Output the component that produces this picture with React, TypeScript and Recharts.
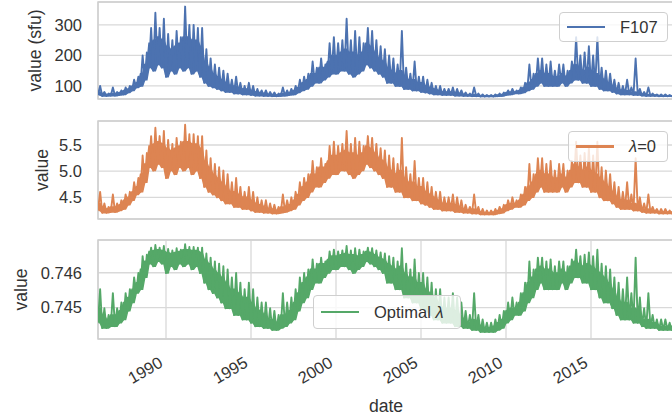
import React from 'react';
import { ComposedChart, Line, Area, XAxis, YAxis, CartesianGrid, ReferenceArea } from 'recharts';

// Daily F10.7 solar flux 1986 - 2019, summarised per quarter:
// the series lists [quarter low, quarter peak] pairs, the *Top lists hold the upper edge of the bulk of the days.
const startYear = 1986;
const samplesPerYear = 8;

const yearTicks = [1990, 1995, 2000, 2005, 2010, 2015];
const fluxTicks = [100, 200, 300];
const logTicks = [4.5, 5.0, 5.5];
const optimalTicks = [0.745, 0.746];

const f107 = [
  70, 100, 67, 80, 67, 75, 68, 95, // 1986
  68, 80, 70, 85, 72, 95, 78, 100,
  85, 120, 95, 130, 100, 200, 120, 210,
  160, 290, 150, 340, 170, 290, 160, 320,
  130, 270, 150, 250, 140, 280, 160, 260, // 1990
  150, 360, 160, 300, 140, 300, 150, 290,
  130, 290, 110, 220, 100, 190, 95, 170,
  90, 160, 85, 150, 80, 140, 80, 120,
  75, 130, 75, 110, 72, 100, 72, 110,
  70, 100, 68, 90, 68, 85, 67, 85, // 1995
  67, 80, 66, 78, 66, 75, 67, 95,
  68, 85, 70, 90, 72, 100, 78, 120,
  85, 130, 90, 140, 100, 180, 110, 160,
  110, 190, 120, 170, 130, 240, 140, 260,
  140, 240, 150, 250, 150, 320, 140, 250, // 2000
  130, 280, 140, 260, 150, 240, 170, 290,
  160, 280, 150, 250, 140, 230, 130, 220,
  110, 200, 110, 190, 100, 170, 100, 280,
  90, 160, 90, 140, 85, 180, 85, 130,
  80, 130, 78, 120, 75, 110, 72, 100, // 2005
  72, 100, 70, 90, 70, 90, 70, 95,
  68, 90, 68, 85, 67, 78, 67, 75,
  66, 95, 66, 75, 65, 72, 65, 70,
  65, 70, 65, 72, 66, 75, 67, 78,
  70, 85, 72, 90, 75, 85, 75, 95, // 2010
  78, 110, 85, 170, 90, 140, 100, 190,
  110, 190, 100, 170, 100, 180, 100, 150,
  100, 170, 110, 170, 100, 150, 110, 180,
  120, 260, 120, 200, 110, 210, 110, 230,
  100, 200, 100, 260, 90, 160, 85, 150, // 2015
  85, 140, 80, 120, 75, 110, 72, 100,
  72, 120, 72, 95, 70, 190, 70, 90,
  68, 80, 67, 95, 67, 75, 67, 72,
  66, 72, 66, 72, 66, 70, 66, 70,
];

const f107Top = [
  80, 75, 72, 75, 75, 78, 85, 90, 100, 110, 140, 170, 240, 250, 260, 250, // 1986-89
  230, 220, 230, 240, 260, 260, 250, 250, 230, 180, 160, 140, 130, 120, 110, 100,
  100, 95, 90, 90, 85, 80, 78, 75, 72, 72, 70, 75, 75, 78, 85, 95, // 1994-97
  110, 120, 140, 140, 160, 160, 180, 200, 200, 210, 220, 210, 210, 200, 210, 240,
  230, 210, 190, 180, 160, 150, 140, 150, 130, 120, 120, 110, 110, 100, 95, 90, // 2002-05
  85, 80, 80, 80, 78, 75, 72, 70, 72, 70, 68, 67, 67, 68, 70, 72,
  78, 80, 80, 85, 95, 110, 120, 140, 150, 140, 140, 130, 130, 140, 130, 150, // 2010-13
  170, 160, 150, 160, 150, 140, 130, 120, 110, 100, 90, 85, 85, 80, 80, 78,
  72, 72, 70, 70, 68, 68, 68, 68, // 2018-19
];

// Box-Cox with lambda = 0 (natural log)
const logF107 = [
  4.248, 4.605, 4.205, 4.382, 4.205, 4.317, 4.220, 4.554,
  4.220, 4.382, 4.248, 4.443, 4.277, 4.554, 4.357, 4.605,
  4.443, 4.787, 4.554, 4.868, 4.605, 5.298, 4.787, 5.347,
  5.075, 5.670, 5.011, 5.829, 5.136, 5.670, 5.075, 5.768,
  4.868, 5.598, 5.011, 5.521, 4.942, 5.635, 5.075, 5.561,
  5.011, 5.886, 5.075, 5.704, 4.942, 5.704, 5.011, 5.670,
  4.868, 5.670, 4.700, 5.394, 4.605, 5.247, 4.554, 5.136,
  4.500, 5.075, 4.443, 5.011, 4.382, 4.942, 4.382, 4.787,
  4.317, 4.868, 4.317, 4.700, 4.277, 4.605, 4.277, 4.700,
  4.248, 4.605, 4.220, 4.500, 4.220, 4.443, 4.205, 4.443,
  4.205, 4.382, 4.190, 4.357, 4.190, 4.317, 4.205, 4.554,
  4.220, 4.443, 4.248, 4.500, 4.277, 4.605, 4.357, 4.787,
  4.443, 4.868, 4.500, 4.942, 4.605, 5.193, 4.700, 5.075,
  4.700, 5.247, 4.787, 5.136, 4.868, 5.481, 4.942, 5.561,
  4.942, 5.481, 5.011, 5.521, 5.011, 5.768, 4.942, 5.521,
  4.868, 5.635, 4.942, 5.561, 5.011, 5.481, 5.136, 5.670,
  5.075, 5.635, 5.011, 5.521, 4.942, 5.438, 4.868, 5.394,
  4.700, 5.298, 4.700, 5.247, 4.605, 5.136, 4.605, 5.635,
  4.500, 5.075, 4.500, 4.942, 4.443, 5.193, 4.443, 4.868,
  4.382, 4.868, 4.357, 4.787, 4.317, 4.700, 4.277, 4.605,
  4.277, 4.605, 4.248, 4.500, 4.248, 4.500, 4.248, 4.554,
  4.220, 4.500, 4.220, 4.443, 4.205, 4.357, 4.205, 4.317,
  4.190, 4.554, 4.190, 4.317, 4.174, 4.277, 4.174, 4.248,
  4.174, 4.248, 4.174, 4.277, 4.190, 4.317, 4.205, 4.357,
  4.248, 4.443, 4.277, 4.500, 4.317, 4.443, 4.317, 4.554,
  4.357, 4.700, 4.443, 5.136, 4.500, 4.942, 4.605, 5.247,
  4.700, 5.247, 4.605, 5.136, 4.605, 5.193, 4.605, 5.011,
  4.605, 5.136, 4.700, 5.136, 4.605, 5.011, 4.700, 5.193,
  4.787, 5.561, 4.787, 5.298, 4.700, 5.347, 4.700, 5.438,
  4.605, 5.298, 4.605, 5.561, 4.500, 5.075, 4.443, 5.011,
  4.443, 4.942, 4.382, 4.787, 4.317, 4.700, 4.277, 4.605,
  4.277, 4.787, 4.277, 4.554, 4.248, 5.247, 4.248, 4.500,
  4.220, 4.382, 4.205, 4.554, 4.205, 4.317, 4.205, 4.277,
  4.190, 4.277, 4.190, 4.277, 4.190, 4.248, 4.190, 4.248,
];

const logTop = [
  4.382, 4.317, 4.277, 4.317, 4.317, 4.357, 4.443, 4.500, 4.605, 4.700, 4.942, 5.136, 5.481, 5.521, 5.561, 5.521,
  5.438, 5.394, 5.438, 5.481, 5.561, 5.561, 5.521, 5.521, 5.438, 5.193, 5.075, 4.942, 4.868, 4.787, 4.700, 4.605,
  4.605, 4.554, 4.500, 4.500, 4.443, 4.382, 4.357, 4.317, 4.277, 4.277, 4.248, 4.317, 4.317, 4.357, 4.443, 4.554,
  4.700, 4.787, 4.942, 4.942, 5.075, 5.075, 5.193, 5.298, 5.298, 5.347, 5.394, 5.347, 5.347, 5.298, 5.347, 5.481,
  5.438, 5.347, 5.247, 5.193, 5.075, 5.011, 4.942, 5.011, 4.868, 4.787, 4.787, 4.700, 4.700, 4.605, 4.554, 4.500,
  4.443, 4.382, 4.382, 4.382, 4.357, 4.317, 4.277, 4.248, 4.277, 4.248, 4.220, 4.205, 4.205, 4.220, 4.248, 4.277,
  4.357, 4.382, 4.382, 4.443, 4.554, 4.700, 4.787, 4.942, 5.011, 4.942, 4.942, 4.868, 4.868, 4.942, 4.868, 5.011,
  5.136, 5.075, 5.011, 5.075, 5.011, 4.942, 4.868, 4.787, 4.700, 4.605, 4.500, 4.443, 4.443, 4.382, 4.382, 4.357,
  4.277, 4.277, 4.248, 4.248, 4.220, 4.220, 4.220, 4.220,
];

// Box-Cox with the fitted (optimal) lambda
const optimalF107 = [
  0.744566, 0.745528, 0.744413, 0.744981, 0.744413, 0.744790, 0.744466, 0.745417,
  0.744466, 0.744981, 0.744566, 0.745146, 0.744660, 0.745417, 0.744908, 0.745528,
  0.745146, 0.745869, 0.745417, 0.745994, 0.745528, 0.746478, 0.745869, 0.746518,
  0.746262, 0.746722, 0.746186, 0.746795, 0.746327, 0.746722, 0.746262, 0.746769,
  0.745994, 0.746684, 0.746186, 0.746639, 0.746098, 0.746704, 0.746262, 0.746662,
  0.746186, 0.746817, 0.746262, 0.746739, 0.746098, 0.746739, 0.746186, 0.746722,
  0.745994, 0.746722, 0.745716, 0.746553, 0.745528, 0.746434, 0.745417, 0.746327,
  0.745290, 0.746262, 0.745146, 0.746186, 0.744981, 0.746098, 0.744981, 0.745869,
  0.744790, 0.745994, 0.744790, 0.745716, 0.744660, 0.745528, 0.744660, 0.745716,
  0.744566, 0.745528, 0.744466, 0.745290, 0.744466, 0.745146, 0.744413, 0.745146,
  0.744413, 0.744981, 0.744359, 0.744908, 0.744359, 0.744790, 0.744413, 0.745417,
  0.744466, 0.745146, 0.744566, 0.745290, 0.744660, 0.745528, 0.744908, 0.745869,
  0.745146, 0.745994, 0.745290, 0.746098, 0.745528, 0.746384, 0.745716, 0.746262,
  0.745716, 0.746434, 0.745869, 0.746327, 0.745994, 0.746613, 0.746098, 0.746662,
  0.746098, 0.746613, 0.746186, 0.746639, 0.746186, 0.746769, 0.746098, 0.746639,
  0.745994, 0.746704, 0.746098, 0.746662, 0.746186, 0.746613, 0.746327, 0.746722,
  0.746262, 0.746704, 0.746186, 0.746639, 0.746098, 0.746584, 0.745994, 0.746553,
  0.745716, 0.746478, 0.745716, 0.746434, 0.745528, 0.746327, 0.745528, 0.746704,
  0.745290, 0.746262, 0.745290, 0.746098, 0.745146, 0.746384, 0.745146, 0.745994,
  0.744981, 0.745994, 0.744908, 0.745869, 0.744790, 0.745716, 0.744660, 0.745528,
  0.744660, 0.745528, 0.744566, 0.745290, 0.744566, 0.745290, 0.744566, 0.745417,
  0.744466, 0.745290, 0.744466, 0.745146, 0.744413, 0.744908, 0.744413, 0.744790,
  0.744359, 0.745417, 0.744359, 0.744790, 0.744302, 0.744660, 0.744302, 0.744566,
  0.744302, 0.744566, 0.744302, 0.744660, 0.744359, 0.744790, 0.744413, 0.744908,
  0.744566, 0.745146, 0.744660, 0.745290, 0.744790, 0.745146, 0.744790, 0.745417,
  0.744908, 0.745716, 0.745146, 0.746327, 0.745290, 0.746098, 0.745528, 0.746434,
  0.745716, 0.746434, 0.745528, 0.746327, 0.745528, 0.746384, 0.745528, 0.746186,
  0.745528, 0.746327, 0.745716, 0.746327, 0.745528, 0.746186, 0.745716, 0.746384,
  0.745869, 0.746662, 0.745869, 0.746478, 0.745716, 0.746518, 0.745716, 0.746584,
  0.745528, 0.746478, 0.745528, 0.746662, 0.745290, 0.746262, 0.745146, 0.746186,
  0.745146, 0.746098, 0.744981, 0.745869, 0.744790, 0.745716, 0.744660, 0.745528,
  0.744660, 0.745869, 0.744660, 0.745417, 0.744566, 0.746434, 0.744566, 0.745290,
  0.744466, 0.744981, 0.744413, 0.745417, 0.744413, 0.744790, 0.744413, 0.744660,
  0.744359, 0.744660, 0.744359, 0.744660, 0.744359, 0.744566, 0.744359, 0.744566,
];

const optimalTop = [
  0.744981, 0.744790, 0.744660, 0.744790, 0.744790, 0.744908, 0.745146, 0.745290,
  0.745528, 0.745716, 0.746098, 0.746327, 0.746613, 0.746639, 0.746662, 0.746639,
  0.746584, 0.746553, 0.746584, 0.746613, 0.746662, 0.746662, 0.746639, 0.746639,
  0.746584, 0.746384, 0.746262, 0.746098, 0.745994, 0.745869, 0.745716, 0.745528,
  0.745528, 0.745417, 0.745290, 0.745290, 0.745146, 0.744981, 0.744908, 0.744790,
  0.744660, 0.744660, 0.744566, 0.744790, 0.744790, 0.744908, 0.745146, 0.745417,
  0.745716, 0.745869, 0.746098, 0.746098, 0.746262, 0.746262, 0.746384, 0.746478,
  0.746478, 0.746518, 0.746553, 0.746518, 0.746518, 0.746478, 0.746518, 0.746613,
  0.746584, 0.746518, 0.746434, 0.746384, 0.746262, 0.746186, 0.746098, 0.746186,
  0.745994, 0.745869, 0.745869, 0.745716, 0.745716, 0.745528, 0.745417, 0.745290,
  0.745146, 0.744981, 0.744981, 0.744981, 0.744908, 0.744790, 0.744660, 0.744566,
  0.744660, 0.744566, 0.744466, 0.744413, 0.744413, 0.744466, 0.744566, 0.744660,
  0.744908, 0.744981, 0.744981, 0.745146, 0.745417, 0.745716, 0.745869, 0.746098,
  0.746186, 0.746098, 0.746098, 0.745994, 0.745994, 0.746098, 0.745994, 0.746186,
  0.746327, 0.746262, 0.746186, 0.746262, 0.746186, 0.746098, 0.745994, 0.745869,
  0.745716, 0.745528, 0.745290, 0.745146, 0.745146, 0.744981, 0.744981, 0.744908,
  0.744660, 0.744660, 0.744566, 0.744566, 0.744466, 0.744466, 0.744466, 0.744466,
];

// each quarter gives two rows: its low, then its peak; the band spans low..top for the whole quarter
const rows = f107.map((v, i) => {
  const q = Math.floor(i / 2);
  return {
    date: startYear + i / samplesPerYear,
    f107: v,
    log: logF107[i],
    optimal: optimalF107[i],
    f107Band: [f107[2 * q], f107Top[q]],
    logBand: [logF107[2 * q], logTop[q]],
    optimalBand: [optimalF107[2 * q], optimalTop[q]],
  };
});

const FONT = '"Liberation Sans", Arial, sans-serif';
const TEXT = '#333333';
const GRID = '#d9d9d9';
const SPINE = '#cfcfcf';
const CHART_W = 674;
const AXIS_W = 98;
const xDomain: [number, number] = [1986, 1986 + 576 / 17];

const YTitle = ({ viewBox, text, baseX }: any) => {
  const cy = viewBox.y + viewBox.height / 2;
  return (
    <text x={baseX} y={cy} transform={`rotate(-90 ${baseX} ${cy})`} textAnchor="middle"
      fontSize={17.6} fill={TEXT} fontFamily={FONT}>
      {text}
    </text>
  );
};

const DateTitle = ({ viewBox }: any) => (
  <text x={viewBox.x + viewBox.width / 2} y={viewBox.y + 72.5} textAnchor="middle"
    fontSize={17.6} fill={TEXT} fontFamily={FONT}>
    date
  </text>
);

const YearTick = ({ x, y, payload }: any) => {
  const tx = x - 2;
  return (
    <text x={tx} y={y} transform={`rotate(-30 ${tx} ${y})`} textAnchor="end"
      fontSize={16.5} fill={TEXT} fontFamily={FONT}>
      {payload.value}
    </text>
  );
};

function LegendBox({ left, top, width, height, color, children }: any) {
  return (
    <div style={{
      position: 'absolute', left, top, width, height, boxSizing: 'border-box',
      display: 'flex', alignItems: 'center', paddingLeft: 7,
      border: `1px solid ${SPINE}`, borderRadius: 4, background: 'rgba(255,255,255,0.8)',
      fontFamily: FONT, fontSize: 16.5, color: TEXT,
    }}>
      <span style={{ display: 'inline-block', width: 38, height: 2.2, background: color, marginRight: 15 }} />
      <span>{children}</span>
    </div>
  );
}

function Panel({ top, height, plotBottom, xAxisHeight, dataKey, color, domain, ticks, digits,
  title, titleX, showDates, legend }: any) {
  return (
    <div style={{ position: 'absolute', left: 0, top, width: CHART_W, height }}>
      <ComposedChart width={CHART_W} height={height} data={rows}
        margin={{ top: 2, right: 0, bottom: plotBottom, left: 0 }}>
        <CartesianGrid stroke={GRID} strokeWidth={1.3} />
        <XAxis dataKey="date" type="number" domain={xDomain} ticks={yearTicks} interval={0}
          allowDataOverflow axisLine={false} tickLine={false} tickSize={0} tickMargin={27}
          height={xAxisHeight} tick={showDates ? <YearTick /> : false}
          label={showDates ? <DateTitle /> : undefined} />
        <YAxis type="number" domain={domain} ticks={ticks} interval={0} allowDataOverflow
          width={AXIS_W} axisLine={false} tickLine={false} tickSize={0} tickMargin={16}
          tickFormatter={(v: number) => v.toFixed(digits)}
          tick={{ fontSize: 16.5, fill: TEXT, fontFamily: FONT }}
          label={<YTitle text={title} baseX={titleX} />} />
        <Area type="linear" dataKey={`${dataKey}Band`} fill={color} fillOpacity={1}
          style={{ fillOpacity: 1 }} stroke={color} strokeWidth={1.5} dot={false}
          activeDot={false} isAnimationActive={false} />
        <Line type="linear" dataKey={dataKey} stroke={color} strokeWidth={1.9} dot={false}
          activeDot={false} strokeLinejoin="round" isAnimationActive={false} />
        <ReferenceArea x1={xDomain[0]} x2={xDomain[1]} y1={domain[0]} y2={domain[1]}
          fill="none" stroke={SPINE} strokeWidth={1.5} ifOverflow="visible" />
      </ComposedChart>
      {legend}
    </div>
  );
}

export default function App() {
  return (
    <div style={{ position: 'absolute', left: 0, top: 0, width: 672, height: 420, overflow: 'hidden', background: '#fff' }}>
      <Panel top={0} height={101} plotBottom={2} xAxisHeight={0} dataKey="f107" color="#4c72b0"
        domain={[57, 375]} ticks={fluxTicks} digits={0} title="value (sfu)" titleX={41}
        legend={<LegendBox left={559} top={12} width={109} height={30} color="#4c72b0">F107</LegendBox>} />
      <Panel top={119} height={102} plotBottom={2} xAxisHeight={0} dataKey="log" color="#dd8452"
        domain={[4.086, 5.958]} ticks={logTicks} digits={1} title="value" titleX={48}
        legend={<LegendBox left={568} top={12} width={100} height={31} color="#dd8452"><i>λ</i>=0</LegendBox>} />
      <Panel top={238} height={182} plotBottom={0} xAxisHeight={81} dataKey="optimal" color="#55a868"
        domain={[0.7441, 0.74694]} ticks={optimalTicks} digits={3} title="value" titleX={26.5} showDates
        legend={<LegendBox left={313} top={57} width={148} height={34} color="#55a868">Optimal <i>λ</i></LegendBox>} />
    </div>
  );
}
